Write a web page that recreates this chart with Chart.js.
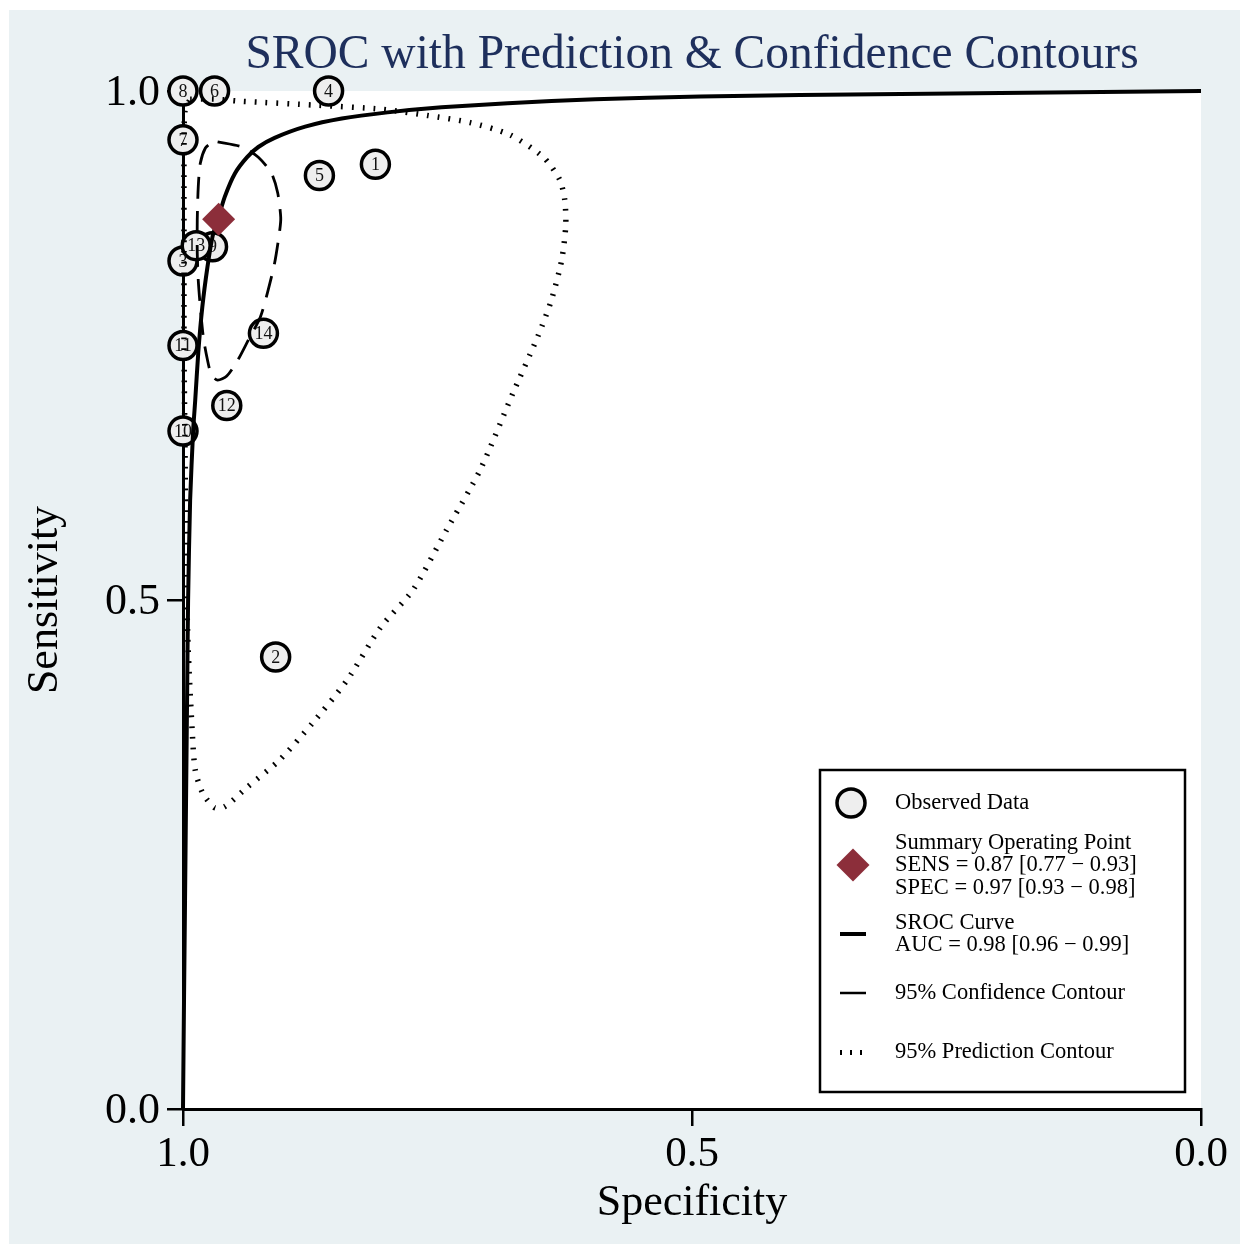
<!DOCTYPE html>
<html>
<head>
<meta charset="utf-8">
<script src="https://cdn.jsdelivr.net/npm/chart.js@4.4.1/dist/chart.umd.min.js"></script>
<style>
  html, body { margin: 0; padding: 0; background: #ffffff; }
  #wrap { width: 1242px; height: 1246px; }
</style>
</head>
<body>
<div id="wrap"><canvas id="chart" width="1242" height="1246"></canvas></div>
<script>

// observed studies
const study_ids  = [1, 2, 3, 4, 5, 6, 7, 8, 9, 10, 11, 12, 13, 14];
const study_spec = [0.811, 0.909, 1.000, 0.857, 0.866, 0.969, 1.000, 1.000, 0.971, 1.000, 1.000, 0.957, 0.987, 0.921];
const study_sens = [0.928, 0.444, 0.833, 1.000, 0.917, 1.000, 0.952, 1.000, 0.847, 0.666, 0.750, 0.691, 0.848, 0.762];

// summary operating point
const summary_spec = [0.965];
const summary_sens = [0.874];

// SROC curve
const sroc_spec = [1.000, 0.999, 0.998, 0.997, 0.996, 0.995, 0.993, 0.990, 0.988, 0.985, 0.981, 0.976, 0.971, 0.966, 0.959, 0.949, 0.937, 0.926, 0.910, 0.880, 0.844, 0.799, 0.746, 0.681, 0.595, 0.492, 0.394, 0.295, 0.197, 0.098, 0.000];
const sroc_sens = [0.000, 0.107, 0.205, 0.304, 0.402, 0.500, 0.598, 0.667, 0.696, 0.743, 0.788, 0.827, 0.857, 0.873, 0.896, 0.919, 0.935, 0.945, 0.954, 0.965, 0.973, 0.979, 0.984, 0.988, 0.992, 0.9945, 0.996, 0.997, 0.998, 0.999, 1.000];

// 95% confidence contour
const conf_spec = [0.966, 0.942, 0.926, 0.913, 0.907, 0.904, 0.905, 0.910, 0.917, 0.924, 0.936, 0.946, 0.957, 0.966, 0.972, 0.976, 0.980, 0.983, 0.985, 0.986, 0.986, 0.985, 0.983, 0.978, 0.972, 0.966];
const conf_sens = [0.950, 0.945, 0.935, 0.919, 0.900, 0.876, 0.863, 0.831, 0.802, 0.778, 0.755, 0.736, 0.720, 0.716, 0.721, 0.736, 0.758, 0.788, 0.814, 0.841, 0.873, 0.906, 0.929, 0.944, 0.949, 0.950];

// 95% prediction contour
const pred_spec = [0.993, 0.969, 0.944, 0.868, 0.804, 0.760, 0.718, 0.679, 0.646, 0.630, 0.625, 0.624, 0.628, 0.638, 0.651, 0.676, 0.708, 0.741, 0.774, 0.806, 0.839, 0.872, 0.905, 0.937, 0.959, 0.969, 0.981, 0.988, 0.991, 0.995, 0.997, 0.998, 0.999, 0.999, 0.999, 0.998, 0.993];
const pred_sens = [0.992, 0.992, 0.990, 0.986, 0.982, 0.976, 0.969, 0.957, 0.935, 0.913, 0.893, 0.868, 0.834, 0.795, 0.760, 0.703, 0.628, 0.569, 0.510, 0.473, 0.421, 0.380, 0.343, 0.316, 0.297, 0.296, 0.311, 0.333, 0.372, 0.454, 0.539, 0.647, 0.746, 0.844, 0.942, 0.981, 0.992];

// axis ticks
const x_ticks = [1.0, 0.5, 0.0];
const y_ticks = [0.0, 0.5, 1.0];

// legend text
const legend_text = [
  ["Observed Data"],
  ["Summary Operating Point", "SENS = 0.87 [0.77 \u2212 0.93]", "SPEC = 0.97 [0.93 \u2212 0.98]"],
  ["SROC Curve", "AUC = 0.98 [0.96 \u2212 0.99]"],
  ["95% Confidence Contour"],
  ["95% Prediction Contour"]
];

const serif = "'Liberation Serif', 'Times New Roman', serif";

function to_points(xs, ys) {
  return xs.map((x, i) => ({ x: x, y: ys[i] }));
}

// background: white margin, light panel, white plot region
const background_plugin = {
  id: "background",
  beforeDraw(chart) {
    const ctx = chart.ctx;
    const a = chart.chartArea;
    ctx.save();
    ctx.fillStyle = "#ffffff";
    ctx.fillRect(0, 0, chart.width, chart.height);
    ctx.fillStyle = "#eaf1f3";
    ctx.fillRect(9, 10, 1231, 1234);
    ctx.fillStyle = "#ffffff";
    ctx.fillRect(a.left, a.top, a.right - a.left, a.bottom - a.top);
    ctx.restore();
  }
};

// study numbers inside the circles
const label_plugin = {
  id: "study_labels",
  afterDatasetDraw(chart, args) {
    if (args.index !== 0) return;
    const ctx = chart.ctx;
    ctx.save();
    ctx.font = "18px " + serif;
    ctx.fillStyle = "#111111";
    ctx.textAlign = "center";
    ctx.textBaseline = "middle";
    args.meta.data.forEach((el, i) => {
      ctx.fillText(String(study_ids[i]), el.x, el.y + 1);
    });
    ctx.restore();
  }
};

// boxed legend at lower right
const legend_plugin = {
  id: "sroc_legend",
  afterDraw(chart) {
    const ctx = chart.ctx;
    ctx.save();
    ctx.fillStyle = "#ffffff";
    ctx.fillRect(820, 770, 365, 322);
    ctx.strokeStyle = "#000000";
    ctx.lineWidth = 2.5;
    ctx.strokeRect(820, 770, 365, 322);

    // observed data symbol
    ctx.beginPath();
    ctx.arc(851, 803, 14, 0, Math.PI * 2);
    ctx.fillStyle = "#eeeeee";
    ctx.fill();
    ctx.lineWidth = 3.5;
    ctx.stroke();

    // summary point symbol
    ctx.beginPath();
    ctx.moveTo(853, 865 - 16.5);
    ctx.lineTo(853 + 16.5, 865);
    ctx.lineTo(853, 865 + 16.5);
    ctx.lineTo(853 - 16.5, 865);
    ctx.closePath();
    ctx.fillStyle = "#8c2e3a";
    ctx.fill();

    // sroc line
    ctx.beginPath();
    ctx.moveTo(840, 934);
    ctx.lineTo(866, 934);
    ctx.lineWidth = 4;
    ctx.stroke();

    // confidence line
    ctx.beginPath();
    ctx.moveTo(840, 993);
    ctx.lineTo(866, 993);
    ctx.lineWidth = 2.5;
    ctx.stroke();

    // prediction dots
    ctx.lineWidth = 2;
    [841, 851, 861].forEach(x => {
      ctx.beginPath();
      ctx.moveTo(x, 1050);
      ctx.lineTo(x, 1055);
      ctx.stroke();
    });

    ctx.fillStyle = "#000000";
    ctx.font = "22.5px " + serif;
    ctx.textAlign = "left";
    ctx.textBaseline = "middle";
    const rows = [[803], [843, 865.5, 888], [923, 945], [993], [1052]];
    legend_text.forEach((lines, i) => {
      lines.forEach((t, j) => ctx.fillText(t, 895, rows[i][j]));
    });
    ctx.restore();
  }
};

const sroc_chart = new Chart(document.querySelector("#chart"), {
  type: "scatter",
  data: {
    datasets: [
      {
        label: "Observed Data",
        data: to_points(study_spec, study_sens),
        pointRadius: 14,
        pointBackgroundColor: "#eeeeee",
        pointBorderColor: "#000000",
        pointBorderWidth: 3.5,
        showLine: false,
        clip: false,
        order: 4
      },
      {
        label: "95% Prediction Contour",
        data: to_points(pred_spec, pred_sens),
        showLine: true,
        pointRadius: 0,
        borderColor: "#000000",
        borderWidth: 5.5,
        borderDash: [1.8, 9],
        tension: 0.25,
        clip: false,
        order: 3
      },
      {
        label: "95% Confidence Contour",
        data: to_points(conf_spec, conf_sens),
        showLine: true,
        pointRadius: 0,
        borderColor: "#000000",
        borderWidth: 2.8,
        borderDash: [22, 12],
        tension: 0.25,
        clip: false,
        order: 3
      },
      {
        label: "SROC Curve",
        data: to_points(sroc_spec, sroc_sens),
        showLine: true,
        pointRadius: 0,
        borderColor: "#000000",
        borderWidth: 4,
        tension: 0.2,
        clip: false,
        order: 2
      },
      {
        label: "Summary Operating Point",
        data: to_points(summary_spec, summary_sens),
        pointStyle: "rectRot",
        pointRadius: 16.5,
        pointBackgroundColor: "#8c2e3a",
        pointBorderWidth: 0,
        showLine: false,
        clip: false,
        order: 1
      }
    ]
  },
  options: {
    responsive: false,
    animation: false,
    events: [],
    layout: { padding: { left: 0, right: 41, top: 0, bottom: 0 } },
    plugins: {
      legend: { display: false },
      tooltip: { enabled: false },
      title: {
        display: true,
        text: "SROC with Prediction & Confidence Contours",
        color: "#1e2f5c",
        fullSize: false,
        font: { family: serif, size: 47.5, weight: "normal" },
        padding: { top: 27.5, bottom: 6.5 }
      }
    },
    scales: {
      x: {
        type: "linear",
        min: 0,
        max: 1,
        reverse: true,
        z: 1,
        afterFit: s => { s.height = 137; },
        afterBuildTicks: s => { s.ticks = x_ticks.map(v => ({ value: v })); },
        grid: { drawOnChartArea: false, color: "#000000", lineWidth: 2.5, tickLength: 17 },
        border: { color: "#000000", width: 3 },
        ticks: {
          color: "#000000",
          font: { family: serif, size: 43 },
          padding: 3,
          maxRotation: 0,
          callback: v => Number(v).toFixed(1)
        },
        title: {
          display: true,
          text: "Specificity",
          color: "#000000",
          font: { family: serif, size: 44 },
          padding: { top: 0, bottom: 16 }
        }
      },
      y: {
        type: "linear",
        min: 0,
        max: 1,
        z: 1,
        afterFit: s => { s.width = 183; },
        afterBuildTicks: s => { s.ticks = y_ticks.map(v => ({ value: v })); },
        grid: { drawOnChartArea: false, color: "#000000", lineWidth: 2.5, tickLength: 16 },
        border: { color: "#000000", width: 3 },
        ticks: {
          color: "#000000",
          font: { family: serif, size: 44 },
          padding: 7,
          labelOffset: 2,
          callback: v => Number(v).toFixed(1)
        },
        title: {
          display: true,
          text: "Sensitivity",
          color: "#000000",
          font: { family: serif, size: 44 },
          padding: { top: 18.6, bottom: 0 }
        }
      }
    }
  },
  plugins: [background_plugin, label_plugin, legend_plugin]
});

</script>
</body>
</html>
